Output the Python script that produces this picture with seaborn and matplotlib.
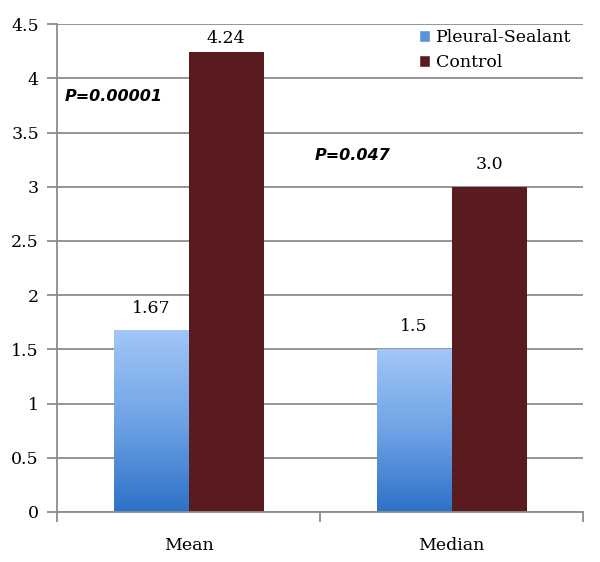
import matplotlib
matplotlib.use('Agg')
import matplotlib.pyplot as plt
import numpy as np
import pandas as pd
import seaborn as sns
from matplotlib.patches import Patch
from matplotlib.colors import LinearSegmentedColormap

# Chart data
categories = ["Mean", "Median"]
groups = ["Pleural-Sealant", "Control"]
pleural_values = [1.67, 1.5]
control_values = [4.24, 3.0]
value_labels = {"Pleural-Sealant": ["1.67", "1.5"], "Control": ["4.24", "3.0"]}
p_labels = ["P=0.00001", "P=0.047"]
y_ticks = [0, 0.5, 1, 1.5, 2, 2.5, 3, 3.5, 4, 4.5]

df = pd.DataFrame({
    "stat": categories * 2,
    "group": [groups[0]] * 2 + [groups[1]] * 2,
    "value": pleural_values + control_values,
})

sns.set_style("white")
plt.rcParams['font.family'] = ['DejaVu Serif']
plt.rcParams['text.color'] = 'black'
plt.rcParams['xtick.labelcolor'] = 'black'
plt.rcParams['ytick.labelcolor'] = 'black'

blue_mid = "#5a93dc"
maroon = "#5a1b1e"
grid_gray = "#8c8c8c"
fs = 12.5

fig = plt.figure(figsize=(6.0, 5.62), dpi=100)
ax = fig.add_axes([0.095, 0.089, 0.877, 0.868])

sns.barplot(data=df, x="stat", y="value", hue="group", hue_order=groups,
            order=categories, palette=[blue_mid, maroon], width=0.57,
            ax=ax, legend=False, saturation=1, linewidth=0)

# gradient fill on the pleural-sealant bars
grad_cmap = LinearSegmentedColormap.from_list("blue_grad", ["#2d71c7", "#6fa3e6", "#a2c6f8"])
grad = np.linspace(0, 1, 256).reshape(-1, 1)
for bar in ax.containers[0]:
    x0, y0 = bar.get_x(), bar.get_y()
    w, h = bar.get_width(), bar.get_height()
    bar.set_facecolor("none")
    ax.imshow(grad, cmap=grad_cmap, origin="lower", aspect="auto",
              extent=[x0, x0 + w, y0, y0 + h], zorder=2)
ax.set_xlim(-0.5, 1.5)
ax.set_ylim(0, 4.5)

# value labels above bars (the tall one is squeezed under the top)
for cont, g in zip(ax.containers, groups):
    for bar, lab in zip(cont, value_labels[g]):
        pad = 3.5 if bar.get_height() > 4 else 10
        ax.annotate(lab, (bar.get_x() + bar.get_width() / 2, bar.get_height()),
                    xytext=(0, pad), textcoords="offset points",
                    ha="center", va="bottom", fontsize=fs)

# p-values
ax.text(-0.47, 3.83, p_labels[0], fontsize=11.5, fontweight="bold", fontstyle="italic",
        family="DejaVu Sans", va="center", ha="left")
ax.text(0.48, 3.29, p_labels[1], fontsize=11.5, fontweight="bold", fontstyle="italic",
        family="DejaVu Sans", va="center", ha="left")

# axes styling
ax.set_yticks(y_ticks)
ax.set_yticklabels([f"{t:g}" for t in y_ticks])
ax.yaxis.grid(True, color=grid_gray, linewidth=1.3)
ax.set_axisbelow(True)
ax.tick_params(axis="y", length=7, width=1.3, color=grid_gray, direction="out",
               labelsize=fs, pad=6, left=True)

ax.set_xticks([-0.5, 0.5, 1.5])
ax.set_xticklabels([])
ax.set_xticks([0, 1], minor=True)
ax.set_xticklabels(categories, minor=True)
ax.tick_params(axis="x", which="major", length=7, width=1.3, color=grid_gray,
               direction="out", bottom=True)
ax.tick_params(axis="x", which="minor", length=0, labelsize=fs, pad=18)

ax.set_xlabel("")
ax.set_ylabel("")
for side in ["top", "right"]:
    ax.spines[side].set_visible(False)
for side in ["left", "bottom"]:
    ax.spines[side].set_color(grid_gray)
    ax.spines[side].set_linewidth(1.3)

handles = [Patch(facecolor=blue_mid, label=groups[0]),
           Patch(facecolor=maroon, label=groups[1])]
ax.legend(handles=handles, loc="upper right", bbox_to_anchor=(1.0, 1.015),
          frameon=False, fontsize=fs, handlelength=0.65, handleheight=0.65,
          handletextpad=0.3, labelspacing=0.45, borderaxespad=0.3)

fig.savefig("out.png", dpi=100)
